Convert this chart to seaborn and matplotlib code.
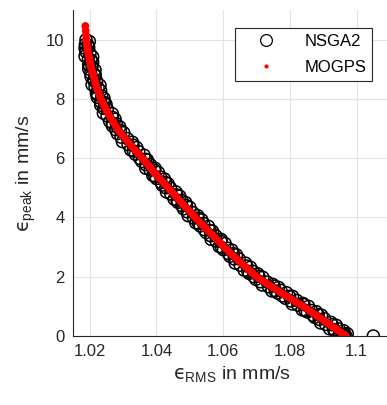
import matplotlib
matplotlib.use("Agg")
import matplotlib.pyplot as plt
from matplotlib.lines import Line2D
import seaborn as sns
import pandas as pd

# ---------------- data ----------------
mogps_x = [1.0187, 1.0188, 1.0189, 1.0190, 1.0191, 1.0193, 1.0194, 1.0196, 1.0198, 1.0200,
           1.0203, 1.0205, 1.0208, 1.0211, 1.0214, 1.0217, 1.0220, 1.0223, 1.0227, 1.0231,
           1.0235, 1.0240, 1.0246, 1.0251, 1.0257, 1.0263, 1.0270, 1.0276, 1.0282, 1.0290,
           1.0299, 1.0308, 1.0317, 1.0326, 1.0335, 1.0345, 1.0355, 1.0363, 1.0370, 1.0378,
           1.0385, 1.0392, 1.0400, 1.0408, 1.0416, 1.0424, 1.0432, 1.0440, 1.0448, 1.0456,
           1.0464, 1.0472, 1.0480, 1.0488, 1.0497, 1.0505, 1.0513, 1.0521, 1.0530, 1.0539,
           1.0548, 1.0556, 1.0565, 1.0574, 1.0583, 1.0591, 1.0600, 1.0609, 1.0618, 1.0627,
           1.0637, 1.0646, 1.0656, 1.0666, 1.0676, 1.0686, 1.0696, 1.0705, 1.0716, 1.0727,
           1.0738, 1.0749, 1.0760, 1.0771, 1.0782, 1.0794, 1.0805, 1.0817, 1.0828, 1.0840,
           1.0850, 1.0860, 1.0871, 1.0881, 1.0892, 1.0902, 1.0912, 1.0922, 1.0933, 1.0943,
           1.0953, 1.0962, 1.0968]
mogps_y = [10.46, 10.30, 10.15, 10.00, 9.88, 9.76, 9.64, 9.52, 9.40, 9.28,
           9.16, 9.04, 8.92, 8.80, 8.68, 8.56, 8.44, 8.32, 8.20, 8.08,
           7.96, 7.84, 7.72, 7.60, 7.48, 7.36, 7.24, 7.12, 7.00, 6.88,
           6.76, 6.64, 6.52, 6.40, 6.28, 6.16, 6.04, 5.94, 5.84, 5.74,
           5.64, 5.54, 5.44, 5.34, 5.24, 5.14, 5.04, 4.94, 4.84, 4.74,
           4.64, 4.54, 4.44, 4.34, 4.24, 4.14, 4.04, 3.94, 3.84, 3.74,
           3.64, 3.54, 3.44, 3.34, 3.24, 3.14, 3.04, 2.94, 2.84, 2.74,
           2.64, 2.54, 2.44, 2.34, 2.24, 2.14, 2.04, 1.96, 1.88, 1.80,
           1.72, 1.64, 1.56, 1.48, 1.40, 1.32, 1.24, 1.16, 1.08, 1.00,
           0.92, 0.84, 0.76, 0.68, 0.60, 0.52, 0.44, 0.36, 0.28, 0.20,
           0.12, 0.05, 0.00]

nsga2_x = [1.0189, 1.0187, 1.0195, 1.0189, 1.0201, 1.0196, 1.0204, 1.0199, 1.0207, 1.0203,
           1.0216, 1.0212, 1.0221, 1.0216, 1.0225, 1.0222, 1.0236, 1.0233, 1.0244, 1.0242,
           1.0253, 1.0252, 1.0268, 1.0268, 1.0280, 1.0278, 1.0292, 1.0294, 1.0313, 1.0315,
           1.0330, 1.0331, 1.0347, 1.0350, 1.0368, 1.0368, 1.0382, 1.0381, 1.0394, 1.0395,
           1.0413, 1.0414, 1.0428, 1.0428, 1.0442, 1.0443, 1.0461, 1.0462, 1.0476, 1.0476,
           1.0490, 1.0492, 1.0510, 1.0511, 1.0525, 1.0526, 1.0541, 1.0543, 1.0561, 1.0563,
           1.0578, 1.0579, 1.0593, 1.0595, 1.0614, 1.0616, 1.0631, 1.0633, 1.0648, 1.0651,
           1.0671, 1.0674, 1.0690, 1.0692, 1.0707, 1.0711, 1.0732, 1.0736, 1.0753, 1.0756,
           1.0773, 1.0777, 1.0799, 1.0803, 1.0821, 1.0824, 1.0842, 1.0845, 1.0865, 1.0869,
           1.0885, 1.0888, 1.0904, 1.0907, 1.0927, 1.0931, 1.0947, 1.0949, 1.0964, 1.0968,
           1.0960, 1.1050,
           1.0199, 1.0186, 1.0197, 1.0186, 1.0209, 1.0197, 1.0209, 1.0197, 1.0216,
           1.0204, 1.0217, 1.0207, 1.0231, 1.0220, 1.0233, 1.0223, 1.0243, 1.0233, 1.0249,
           1.0241, 1.0268, 1.0260, 1.0276, 1.0268, 1.0290, 1.0283, 1.0302, 1.0298, 1.0328,
           1.0323, 1.0341, 1.0337, 1.0363, 1.0356, 1.0373, 1.0368, 1.0396, 1.0389, 1.0406,
           1.0400, 1.0424, 1.0417, 1.0435, 1.0430, 1.0459, 1.0453, 1.0470, 1.0464, 1.0488,
           1.0481, 1.0500, 1.0495, 1.0524, 1.0518, 1.0536, 1.0531, 1.0556, 1.0549, 1.0568,
           1.0564, 1.0594, 1.0588, 1.0606, 1.0601, 1.0626, 1.0620, 1.0640, 1.0636, 1.0667,
           1.0663, 1.0682, 1.0678, 1.0704, 1.0698, 1.0719, 1.0717, 1.0749, 1.0746, 1.0766,
           1.0763, 1.0790, 1.0787, 1.0808, 1.0807, 1.0839, 1.0837, 1.0856, 1.0852, 1.0879,
           1.0874, 1.0895, 1.0892, 1.0923, 1.0919, 1.0939, 1.0935, 1.0961, 1.0958, 1.0972]
nsga2_y = [10.00, 9.84, 9.82, 9.59, 9.54, 9.34, 9.32, 9.12, 9.10, 8.87,
           8.82, 8.62, 8.60, 8.40, 8.38, 8.15, 8.10, 7.90, 7.88, 7.68,
           7.66, 7.43, 7.38, 7.18, 7.16, 6.96, 6.94, 6.71, 6.66, 6.46,
           6.44, 6.24, 6.22, 5.99, 5.96, 5.78, 5.78, 5.60, 5.60, 5.39,
           5.36, 5.18, 5.18, 5.00, 5.00, 4.79, 4.76, 4.58, 4.58, 4.40,
           4.40, 4.19, 4.16, 3.98, 3.98, 3.80, 3.80, 3.59, 3.56, 3.38,
           3.38, 3.20, 3.20, 2.99, 2.96, 2.78, 2.78, 2.60, 2.60, 2.39,
           2.36, 2.18, 2.18, 2.00, 2.02, 1.83, 1.82, 1.66, 1.68, 1.52,
           1.54, 1.35, 1.34, 1.18, 1.20, 1.04, 1.06, 0.87, 0.86, 0.70,
           0.72, 0.56, 0.58, 0.39, 0.38, 0.22, 0.24, 0.08, 0.07, 0.00,
           0.02, 0.00,
           9.94, 9.71, 9.74, 9.44, 9.42, 9.16, 9.24, 9.01, 8.98,
           8.75, 8.78, 8.48, 8.46, 8.20, 8.28, 8.05, 8.02, 7.79, 7.82,
           7.52, 7.50, 7.24, 7.32, 7.09, 7.06, 6.83, 6.86, 6.56, 6.54,
           6.28, 6.36, 6.13, 6.10, 5.89, 5.94, 5.66, 5.66, 5.42, 5.52,
           5.31, 5.30, 5.09, 5.14, 4.86, 4.86, 4.62, 4.72, 4.51, 4.50,
           4.29, 4.34, 4.06, 4.06, 3.82, 3.92, 3.71, 3.70, 3.49, 3.54,
           3.26, 3.26, 3.02, 3.12, 2.91, 2.90, 2.69, 2.74, 2.46, 2.46,
           2.22, 2.32, 2.11, 2.10, 1.91, 1.98, 1.72, 1.74, 1.52, 1.64,
           1.45, 1.46, 1.27, 1.34, 1.08, 1.10, 0.88, 1.00, 0.81, 0.82,
           0.63, 0.70, 0.44, 0.46, 0.24, 0.36, 0.17, 0.18, 0.04, 0.08]

series_names = ["NSGA2", "MOGPS"]
x_ticks = [1.02, 1.04, 1.06, 1.08, 1.1]
x_tick_labels = ["1.02", "1.04", "1.06", "1.08", "1.1"]
y_ticks = [0, 2, 4, 6, 8, 10]
x_label = "$\u03f5_{\\mathrm{RMS}}$ in mm/s"
y_label = "$\u03f5_{\\mathrm{peak}}$ in mm/s"

# ---------------- style ----------------
sns.set_theme(style="white")
plt.rcParams["font.family"] = ["Liberation Sans", "DejaVu Sans"]
plt.rcParams["mathtext.fontset"] = "custom"
plt.rcParams["mathtext.rm"] = "Liberation Sans"
plt.rcParams["mathtext.it"] = "DejaVu Sans"
plt.rcParams["mathtext.bf"] = "Liberation Sans:bold"
plt.rcParams["mathtext.fallback"] = "stixsans"

AX_COL = "#262626"

fig = plt.figure(figsize=(3.87, 4.05), dpi=100)
ax = fig.add_axes([73 / 387, 69 / 405, (390 - 73) / 387, (336 - 10) / 405])

df_n = pd.DataFrame({"x": nsga2_x, "y": nsga2_y})
df_m = pd.DataFrame({"x": mogps_x, "y": mogps_y})

sns.scatterplot(data=df_n, x="x", y="y", ax=ax, marker="o", s=74,
                facecolors="none", edgecolors="black", linewidths=1.1, zorder=3)
sns.scatterplot(data=df_m, x="x", y="y", ax=ax, marker="o", s=32,
                color="red", edgecolor="none", linewidth=0, zorder=4)

ax.set_xlim(1.015, 1.11)
ax.set_ylim(0, 11)
ax.set_xticks(x_ticks)
ax.set_xticklabels(x_tick_labels)
ax.set_yticks(y_ticks)

ax.grid(True, color="#e3e3e3", linewidth=0.8, zorder=0)
ax.set_axisbelow(True)
for side in ["top", "right"]:
    ax.spines[side].set_visible(False)
for side in ["left", "bottom"]:
    ax.spines[side].set_color(AX_COL)
    ax.spines[side].set_linewidth(0.8)
    ax.spines[side].set_zorder(5)

ax.tick_params(axis="both", direction="in", length=4, width=0.8, color=AX_COL,
               labelcolor=AX_COL, labelsize=12, pad=6)

ax.set_xlabel(x_label, fontsize=14, color=AX_COL, labelpad=4)
ax.set_ylabel(y_label, fontsize=14, color=AX_COL, labelpad=6)

handles = [
    Line2D([], [], marker="o", linestyle="", markerfacecolor="none",
           markeredgecolor="black", markersize=8.5, markeredgewidth=0.9),
    Line2D([], [], marker="o", linestyle="", markerfacecolor="red",
           markeredgecolor="none", markersize=3),
]
leg = ax.legend(handles, series_names, loc="upper right",
                bbox_to_anchor=(372 / 387, 1 - 28 / 405), bbox_transform=fig.transFigure,
                borderaxespad=0, fancybox=False, framealpha=1, edgecolor=AX_COL,
                fontsize=12, handlelength=3.0, handletextpad=0.8,
                borderpad=0.35, labelspacing=0.68)
leg.get_frame().set_linewidth(0.8)
for t in leg.get_texts():
    t.set_color("black")

fig.savefig("out.png", dpi=100)
